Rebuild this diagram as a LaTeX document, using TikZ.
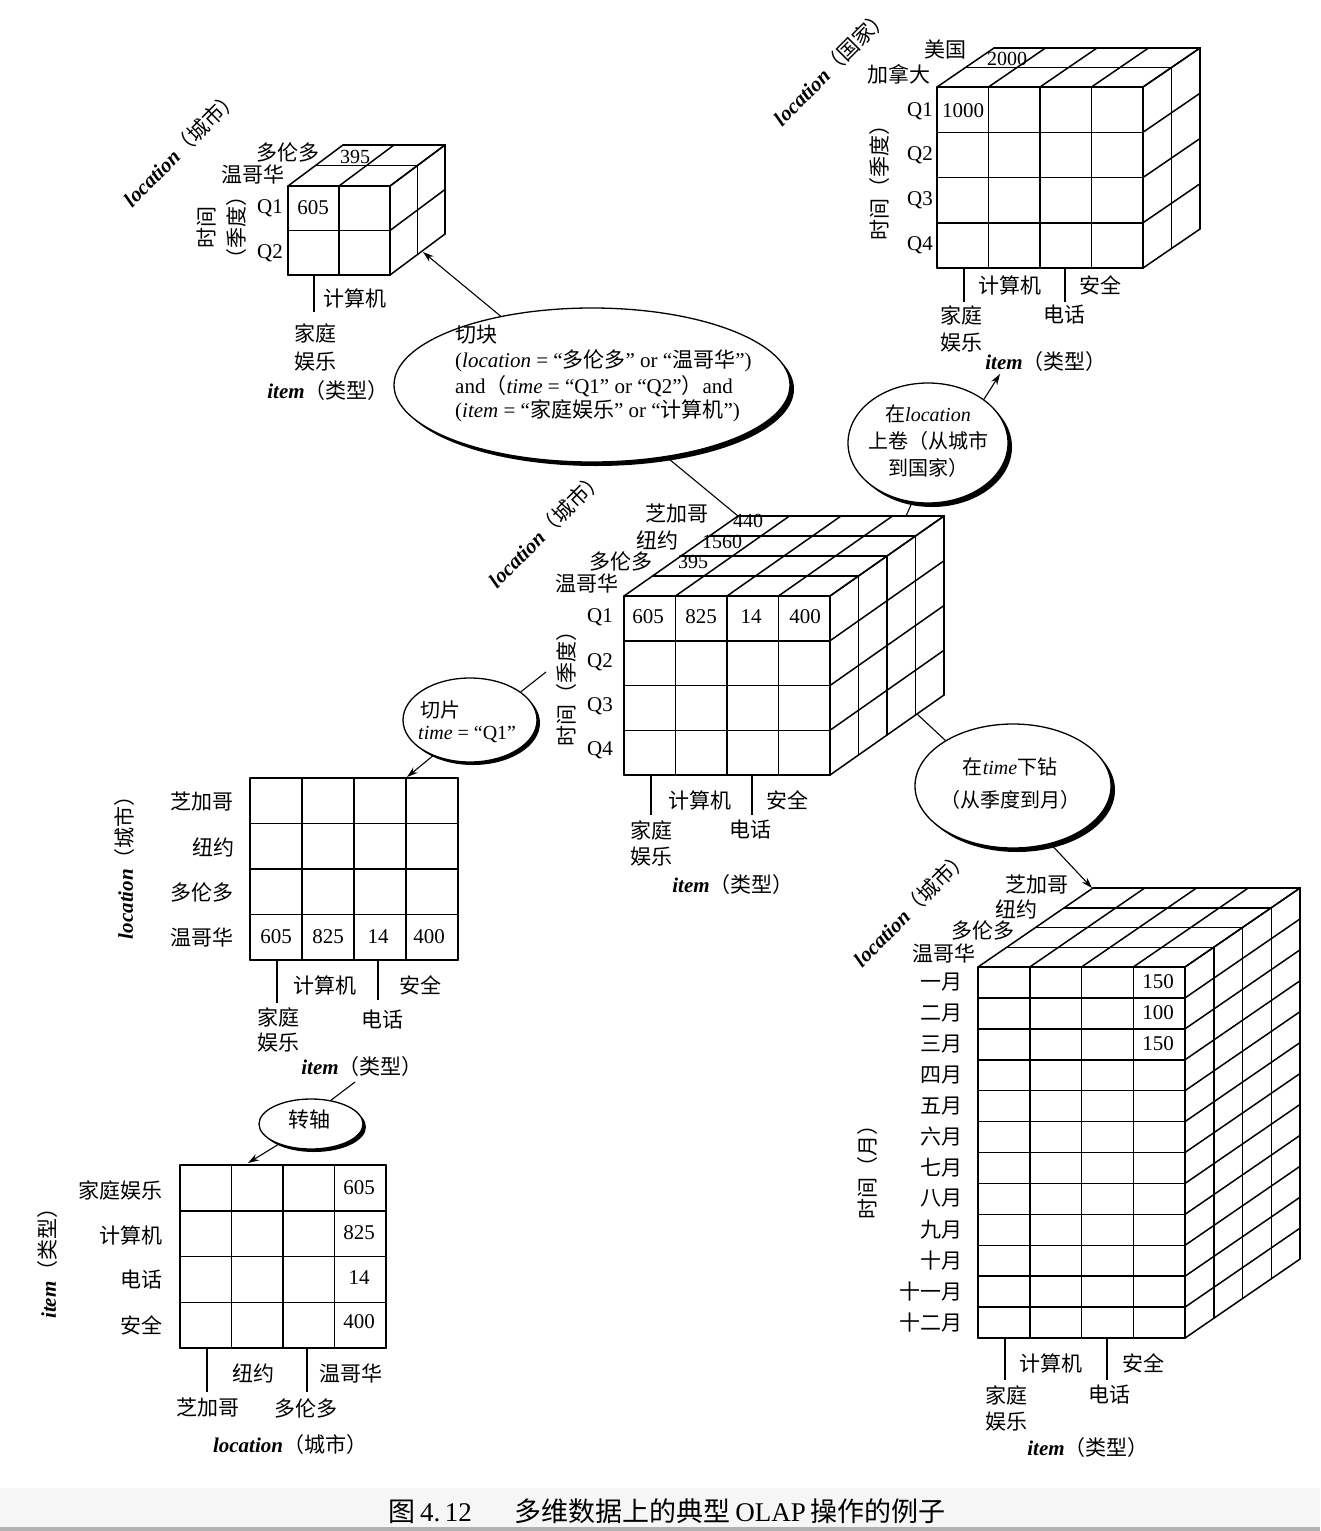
\documentclass[tikz,border=0pt]{standalone}
\usepackage{fontspec}
\setmainfont{Liberation Serif}
\newfontfamily\cjk{Noto Sans CJK SC}
\usetikzlibrary{shapes.geometric,arrows.meta}
\newcommand\fs{\fontsize{21}{25}\selectfont}
\newcommand\fse{\fontsize{20}{24}\selectfont}
\newcommand\fsd{\fontsize{21}{24}\selectfont}
\newcommand\fsn{\fontsize{20}{24}\selectfont}
\newcommand\zh[1]{{\cjk #1}}
\newcommand\ax[2]{{\bfseries\itshape #1}\zh{（#2）}}
% X Y W H nc nr dx dy nl
\newcommand\olapcube[9]{%
  \pgfmathsetmacro\olcw{#5*#3}%
  \pgfmathsetmacro\olch{#6*#4}%
  \pgfmathsetmacro\oldx{#9*(#7)}%
  \pgfmathsetmacro\oldy{#9*(#8)}%
  \foreach \i in {0,...,#5}{%
    \draw[grid] ({#1+\i*#3},#2) -- ++(0,\olch);
    \draw[grid] ({#1+\i*#3},#2) -- ++(\oldx,\oldy);}
  \foreach \j in {1,...,#6}{%
    \draw[grid] (#1,{#2+\j*#4}) -- ++(\olcw,0);}
  \foreach \j in {0,...,#6}{%
    \draw[grid] ({#1+\olcw},{#2+\j*#4}) -- ++(\oldx,\oldy);}
  \foreach \k in {0,...,#9}{%
    \draw[grid] ({#1+\k*(#7)},{#2+\k*(#8)}) -- ++(\olcw,0) -- ++(0,\olch);}
}
% X Y W H nc nr
\newcommand\olapgrid[6]{%
  \foreach \i in {0,...,#5}{\draw[grid] ({#1+\i*#3},#2) -- ++(0,{#6*#4});}
  \foreach \j in {0,...,#6}{\draw[grid] (#1,{#2+\j*#4}) -- ++({#5*#3},0);}
}
% name x y w h shift
\newcommand\olapell[6]{%
  \node[ellipse, fill=black, minimum width=#4pt, minimum height=#5pt] (#1s) at ({#2+#6},{#3+#6}) {};
  \node[ellipse, draw, line width=1.3pt, fill=white, minimum width=#4pt, minimum height=#5pt] (#1) at (#2,#3) {};
}
\begin{document}
\begin{tikzpicture}[x=1pt,y=-1pt,
  every node/.style={inner sep=0pt, font=\fs},
  grid/.style={line width=1.5pt, line cap=round},
  conn/.style={line width=1.1pt},
  arr/.style={conn, -{Stealth[length=11pt,width=7pt]}},
  tick/.style={line width=1.2pt},
  ltxt/.style={anchor=west, font=\fse},
  dtxt/.style={anchor=west, font=\fsd}]
\useasboundingbox (0,0) rectangle (1320,1531);
\fill[white] (0,0) rectangle (1320,1531);
\fill[gray!7] (0,1488) rectangle (1320,1527);
\fill[gray!60] (0,1527) rectangle (1320,1531);

% ---------- central cube ----------
\olapcube{624}{596}{51.5}{44.75}{4}{4}{28.5}{-20}{4}
\node (cC) at (677,514) {\zh{芝加哥}};
\node (cN) at (657,540) {\zh{纽约}};
\node (cT) at (621,561) {\zh{多伦多}};
\node (cV) at (587,583) {\zh{温哥华}};
\node[font=\fsn] (c440) at (748,521) {440};
\node[font=\fsn] (c1560) at (722,542) {1560};
\node[font=\fsn] (c395) at (693,562) {395};
\node (cq1) at (600,617) {Q1};
\node (cq2) at (600,662) {Q2};
\node (cq3) at (600,706) {Q3};
\node (cq4) at (600,750) {Q4};
\node (cv1) at (648,617) {605};
\node (cv2) at (701,617) {825};
\node (cv3) at (751,617) {14};
\node (cv4) at (805,617) {400};
\node[rotate=90] (ctime) at (567,683) {\zh{时间（季度）}};
\node[rotate=45] (cloc) at (546,529) {\ax{location}{城市}};
\draw[tick] (651,775) -- (651,815);
\draw[tick] (752,775) -- (752,815);
\node (ci1) at (700,800) {\zh{计算机}};
\node (ci2) at (787,800) {\zh{安全}};
\node (ci3) at (651,830) {\zh{家庭}};
\node (ci4) at (750,830) {\zh{电话}};
\node (ci5) at (651,857) {\zh{娱乐}};
\node (citem) at (733,885) {\ax{item}{类型}};

% ---------- dice result (small cube) ----------
\olapcube{288}{186}{51}{44.5}{2}{2}{27.5}{-20.5}{2}
\node (sT) at (288,152) {\zh{多伦多}};
\node (sV) at (253,174) {\zh{温哥华}};
\node[font=\fsn] (s395) at (355,157) {395};
\node (sq1) at (270,208) {Q1};
\node (sq2) at (270,253) {Q2};
\node (sv1) at (313,208) {605};
\node[rotate=90, align=center] (stime) at (222,227) {\zh{时间}\\[5pt]\zh{（季度）}};
\node[rotate=45] (sloc) at (181,148) {\ax{location}{城市}};
\draw[tick] (314,275) -- (314,312);
\node (si1) at (355,298) {\zh{计算机}};
\node (si3) at (315,333) {\zh{家庭}};
\node (si5) at (315,362) {\zh{娱乐}};
\node (sitem) at (328,391) {\ax{item}{类型}};

% ---------- roll-up result (top right cube) ----------
\olapcube{937}{87}{51.5}{45.25}{4}{4}{28.5}{-19.5}{2}
\node (rU) at (945,49) {\zh{美国}};
\node (rK) at (899,74) {\zh{加拿大}};
\node[font=\fsn] (r2000) at (1007,59) {2000};
\node (rv1) at (963,111) {1000};
\node (rq1) at (920,111) {Q1};
\node (rq2) at (920,155) {Q2};
\node (rq3) at (920,200) {Q3};
\node (rq4) at (920,245) {Q4};
\node[rotate=90] (rtime) at (880,177) {\zh{时间（季度）}};
\node[rotate=45] (rloc) at (831,67) {\ax{location}{国家}};
\draw[tick] (964,268) -- (964,302);
\draw[tick] (1065,268) -- (1065,302);
\node (ri1) at (1010,285) {\zh{计算机}};
\node (ri2) at (1100,285) {\zh{安全}};
\node (ri3) at (961,315) {\zh{家庭}};
\node (ri4) at (1064,315) {\zh{电话}};
\node (ri5) at (961,343) {\zh{娱乐}};
\node (ritem) at (1046,362) {\ax{item}{类型}};

% ---------- slice result ----------
\olapgrid{250}{778}{52}{45.5}{4}{4}
\node (lC) at (202,802) {\zh{芝加哥}};
\node (lN) at (213,847) {\zh{纽约}};
\node (lT) at (202,892) {\zh{多伦多}};
\node (lV) at (202,937) {\zh{温哥华}};
\node (lv1) at (276,937) {605};
\node (lv2) at (328,937) {825};
\node (lv3) at (378,937) {14};
\node (lv4) at (429,937) {400};
\node[rotate=90] (lloc) at (125,862) {\ax{location}{城市}};
\draw[tick] (277,960) -- (277,1003);
\draw[tick] (378,960) -- (378,1000);
\node (li1) at (325,985) {\zh{计算机}};
\node (li2) at (420,985) {\zh{安全}};
\node (li3) at (278,1017) {\zh{家庭}};
\node (li4) at (382,1020) {\zh{电话}};
\node (li5) at (278,1043) {\zh{娱乐}};
\node (litem) at (362,1067) {\ax{item}{类型}};

% ---------- pivot result ----------
\olapgrid{180}{1165}{51.5}{45.75}{4}{4}
\node[anchor=east] (pH) at (163,1190) {\zh{家庭娱乐}};
\node[anchor=east] (pC) at (163,1235) {\zh{计算机}};
\node[anchor=east] (pP) at (163,1280) {\zh{电话}};
\node[anchor=east] (pS) at (163,1325) {\zh{安全}};
\node (pv1) at (359,1188) {605};
\node (pv2) at (359,1233) {825};
\node (pv3) at (359,1278) {14};
\node (pv4) at (359,1322) {400};
\node[rotate=90] (pitem) at (48,1258) {\ax{item}{类型}};
\draw[tick] (207,1348) -- (207,1392);
\draw[tick] (307,1348) -- (307,1392);
\node (pl1) at (253,1373) {\zh{纽约}};
\node (pl2) at (351,1373) {\zh{温哥华}};
\node (pl3) at (208,1408) {\zh{芝加哥}};
\node (pl4) at (306,1408) {\zh{多伦多}};
\node (ploc) at (290,1445) {\ax{location}{城市}};

% ---------- drill-down result ----------
\olapcube{978}{967}{51.75}{30.92}{4}{12}{28.75}{-19.75}{4}
\node (dC) at (1037,885) {\zh{芝加哥}};
\node (dN) at (1016,909) {\zh{纽约}};
\node (dT) at (983,930) {\zh{多伦多}};
\node (dV) at (944,953) {\zh{温哥华}};
\foreach \m [count=\n from 0] in {一月,二月,三月,四月,五月,六月,七月,八月,九月,十月,十一月,十二月}{
  \node[anchor=east] (dm\n) at (963,{982+\n*30.92}) {\zh{\m}};
}
\node (dv1) at (1158,982) {150};
\node (dv2) at (1158,1013) {100};
\node (dv3) at (1158,1044) {150};
\node[rotate=90] (dtime) at (868,1167) {\zh{时间（月）}};
\node[rotate=45] (dloc) at (911,908) {\ax{location}{城市}};
\draw[tick] (1005,1338) -- (1005,1380);
\draw[tick] (1107,1338) -- (1107,1380);
\node (di1) at (1051,1363) {\zh{计算机}};
\node (di2) at (1143,1363) {\zh{安全}};
\node (di3) at (1006,1395) {\zh{家庭}};
\node (di4) at (1109,1395) {\zh{电话}};
\node (di5) at (1006,1422) {\zh{娱乐}};
\node (ditem) at (1088,1448) {\ax{item}{类型}};

% ---------- ellipses ----------
\olapell{dice}{592}{385}{396}{154}{4}
\node[dtxt] (e1a) at (455,335) {\zh{切块}};
\node[dtxt] (e1b) at (455,361) {(\textit{location} = “\zh{多伦多}”\ or\ “\zh{温哥华}”)};
\node[dtxt] (e1c) at (455,386) {and\zh{（}\textit{time} = “Q1”\ or\ “Q2”\zh{）}and};
\node[dtxt] (e1d) at (455,411) {(\textit{item} = “\zh{家庭娱乐}”\ or\ “\zh{计算机}”)};

\olapell{rollup}{928}{443}{160}{120}{4}
\node[align=center, font=\fse] (e2) at (928,441) {\zh{在}\textit{location}\\[3pt]\zh{上卷（从城市}\\[3pt]\zh{到国家）}};

\olapell{slice}{470}{720}{134}{84}{3}
\node[ltxt] (e3a) at (420,710) {\zh{切片}};
\node[ltxt] (e3b) at (418,734) {\textit{time} = “Q1”};

\olapell{drill}{1013}{786}{196}{124}{4}
\node[align=center, font=\fse] (e4) at (1010,784) {\zh{在}\textit{time}\zh{下钻}\\[9pt]\zh{（从季度到月）}};

\olapell{pivot}{311}{1124}{104}{50}{3}
\node (e5) at (309,1120) {\zh{转轴}};

% ---------- connectors ----------
\coordinate (kSmall) at (423,252);
\coordinate (kCubeTL) at (738,516);
\coordinate (kCubeTR) at (906,516);
\coordinate (kRoll) at (1000,374);
\coordinate (kCubeL) at (546,672);
\coordinate (kSlice) at (407,777);
\coordinate (kCubeBR) at (917,714);
\coordinate (kDrill) at (1092,888);
\coordinate (kSliceItem) at (355,1082);
\coordinate (kPivot) at (248,1163);

\draw[arr] (dice.143) -- (kSmall);
\draw[conn] (kCubeTL) -- (dice.-44);
\draw[conn] (kCubeTR) -- (rollup.-105);
\draw[arr] (rollup.38) -- (kRoll);
\draw[conn] (kCubeL) -- (slice.29);
\draw[arr] (slice.-136) -- (kSlice);
\draw[conn] (kCubeBR) -- (drill.146);
\draw[arr] (drill.-57) -- (kDrill);
\draw[conn] (kSliceItem) -- (pivot.50);
\draw[arr] (pivot.-148) -- (kPivot);

% ---------- caption ----------
\node (cap) at (667,1511) {\fontsize{27}{30}\selectfont\zh{图}\,4.\,12\hspace{1.6em}\zh{多维数据上的典型}\,OLAP\,\zh{操作的例子}};
\end{tikzpicture}
\end{document}
